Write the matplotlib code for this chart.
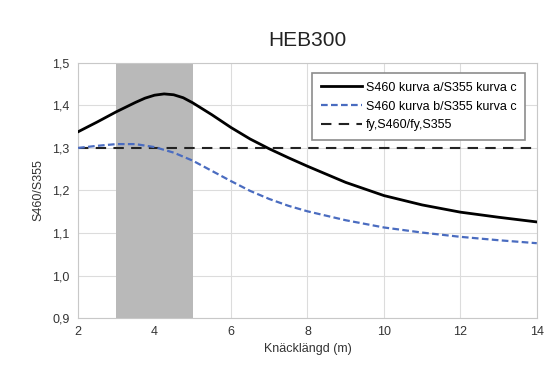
import matplotlib
matplotlib.use("Agg")
import matplotlib.pyplot as plt
from matplotlib.ticker import FuncFormatter

plt.rcParams['font.family'] = ['Liberation Sans', 'DejaVu Sans']

x_a = [2, 2.5, 3, 3.5, 3.75, 4, 4.25, 4.5, 4.75, 5, 5.5, 6, 6.5, 7, 7.5, 8, 9, 10, 11, 12, 13, 14]
y_a = [1.338, 1.361, 1.385, 1.407, 1.417, 1.424, 1.427, 1.425, 1.418, 1.406, 1.378, 1.348,
       1.321, 1.298, 1.277, 1.257, 1.219, 1.188, 1.166, 1.149, 1.137, 1.126]
x_b = [2, 2.5, 3, 3.5, 4, 4.5, 5, 5.5, 6, 6.5, 7, 7.5, 8, 9, 10, 11, 12, 13, 14]
y_b = [1.30, 1.305, 1.309, 1.309, 1.302, 1.289, 1.270, 1.246, 1.222, 1.199, 1.180, 1.164,
       1.151, 1.130, 1.113, 1.101, 1.091, 1.083, 1.076]
fy_ratio = 1.3
span = (3, 5)
labels = ['S460 kurva a/S355 kurva c', 'S460 kurva b/S355 kurva c', 'fy,S460/fy,S355']

fig = plt.figure(figsize=(5.5, 3.72), dpi=100)
ax = fig.add_axes([0.142, 0.145, 0.834, 0.686])

ax.axvspan(span[0], span[1], color='#b9b9b9', zorder=1, lw=0)
ax.plot(x_a, y_a, color='black', lw=2.0, label=labels[0], zorder=3)
ax.plot(x_b, y_b, color='#4a6cc0', lw=1.6, ls=(0, (3, 1.5)), label=labels[1], zorder=3)
ax.axhline(fy_ratio, color='#222222', lw=1.5, ls=(0, (5, 3.5)), label=labels[2], zorder=2)

ax.set_xlim(2, 14)
ax.set_ylim(0.9, 1.5)
ax.set_xticks(range(2, 15, 2))
ax.set_yticks([0.9, 1.0, 1.1, 1.2, 1.3, 1.4, 1.5])
ax.yaxis.set_major_formatter(FuncFormatter(lambda v, p: f"{v:.1f}".replace('.', ',')))
ax.grid(True, color='#dcdcdc', lw=0.8, zorder=0)
ax.set_axisbelow(True)
for s in ax.spines.values():
    s.set_color('#c8c8c8')
ax.tick_params(length=0, labelsize=9, colors='#333333', pad=6)

ax.set_title('HEB300', fontsize=15, pad=12, color='#222222')
ax.set_xlabel('Knäcklängd (m)', fontsize=9, color='#333333', labelpad=3)
ax.set_ylabel('S460/S355', fontsize=9, color='#333333', labelpad=6)

leg = ax.legend(loc='upper right', bbox_to_anchor=(0.988, 0.985), fontsize=9.0,
                frameon=True, fancybox=False, edgecolor='#8c8c8c', framealpha=1,
                handlelength=3.3, handletextpad=0.3, borderpad=0.7, labelspacing=0.55)
leg.get_frame().set_linewidth(1.2)

fig.savefig('out.png', dpi=100)
